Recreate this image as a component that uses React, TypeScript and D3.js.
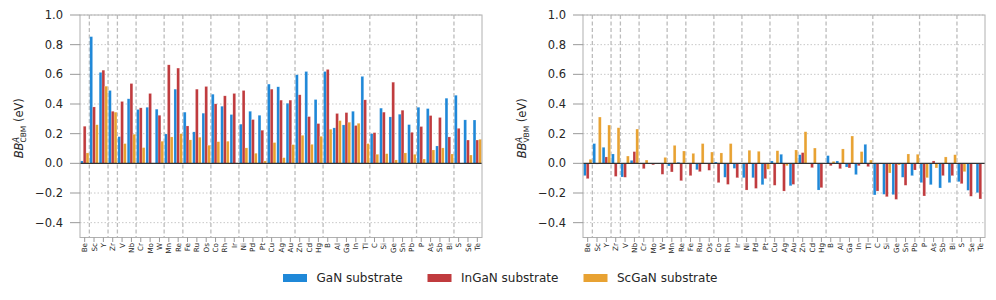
import React from 'react';
import * as d3 from 'd3';

// periodic-table groups, dashed lines separate them
const groups = [
  ['Be'], ['Sc', 'Y'], ['Zr'], ['V', 'Nb'], ['Cr', 'Mo', 'W'], ['Mn', 'Re'],
  ['Fe', 'Ru', 'Os'], ['Co', 'Rh', 'Ir'], ['Ni', 'Pd', 'Pt'], ['Cu', 'Ag', 'Au'],
  ['Zn', 'Cd', 'Hg'], ['B', 'Al', 'Ga', 'In', 'Tl'], ['C', 'Si', 'Ge', 'Sn', 'Pb'],
  ['P', 'As', 'Sb', 'Bi'], ['S', 'Se', 'Te'],
];
const categories = groups.flat();

const seriesNames = ['GaN substrate', 'InGaN substrate', 'ScGaN substrate'];
const colors = ['#1f88d8', '#c03b3e', '#e8a232'];

// BB^A_CBM
const ganCbm = [0.016, 0.854, 0.613, 0.491, 0.18, 0.435, 0.363, 0.378, 0.365, 0.198, 0.5, 0.345, 0.212, 0.338, 0.466, 0.385, 0.329, 0.264, 0.351, 0.324, 0.534, 0.516, 0.405, 0.597, 0.619, 0.43, 0.619, 0.239, 0.259, 0.351, 0.586, 0.2, 0.372, 0.313, 0.331, 0.261, 0.378, 0.369, 0.117, 0.439, 0.459, 0.293, 0.292];
const inganCbm = [0.25, 0.38, 0.628, 0.351, 0.417, 0.538, 0.374, 0.471, 0.324, 0.664, 0.642, 0.252, 0.5, 0.518, 0.401, 0.455, 0.471, 0.491, 0.295, 0.223, 0.5, 0.426, 0.426, 0.462, 0.315, 0.268, 0.633, 0.336, 0.342, 0.255, 0.428, 0.207, 0.345, 0.547, 0.358, 0.209, 0.248, 0.322, 0.309, 0.178, 0.236, 0.157, 0.157];
const scganCbm = [0.07, 0.26, 0.52, 0.345, 0.133, 0.196, 0.106, 0.0, 0.149, 0.178, 0.2, 0.158, 0.176, 0.122, 0.146, 0.149, 0.0, 0.104, 0.068, 0.016, 0.14, 0.038, 0.126, 0.189, 0.128, 0.182, 0.23, 0.288, 0.277, 0.27, 0.133, 0.061, 0.065, 0.023, 0.07, 0.061, 0.029, 0.09, 0.104, 0.063, 0.002, 0.056, 0.162];

// BB^A_VBM
const ganVbm = [-0.083, 0.133, 0.108, 0.063, -0.092, 0.02, -0.005, -0.003, -0.004, -0.018, 0.007, -0.005, -0.043, -0.004, 0.009, -0.094, -0.034, -0.097, -0.097, -0.144, 0.016, 0.061, -0.151, 0.058, -0.003, -0.18, 0.052, 0.016, -0.025, -0.076, 0.128, -0.213, -0.209, -0.211, -0.094, -0.083, -0.13, -0.144, -0.166, -0.13, -0.124, -0.182, -0.198];
const inganVbm = [-0.103, -0.005, 0.043, -0.088, -0.094, 0.079, -0.036, -0.01, -0.074, -0.058, -0.117, -0.083, -0.056, -0.047, -0.13, -0.142, -0.097, -0.18, -0.169, -0.103, -0.148, -0.187, -0.142, 0.072, -0.029, -0.164, -0.016, -0.036, -0.031, -0.016, -0.022, -0.187, -0.225, -0.243, -0.148, -0.045, -0.22, 0.016, -0.083, -0.083, -0.137, -0.222, -0.24];
const scganVbm = [0.027, 0.312, 0.258, 0.24, 0.049, 0.231, 0.022, 0.0, 0.04, 0.121, 0.083, 0.067, 0.133, 0.076, 0.07, 0.133, 0.0, 0.088, 0.081, -0.04, 0.085, -0.016, 0.09, 0.213, 0.103, 0.0, 0.013, 0.097, 0.184, 0.079, 0.022, 0.0, -0.065, -0.011, 0.063, 0.061, -0.097, -0.031, 0.043, 0.058, -0.056, 0.0, 0.0];

const yDomain = [-0.5, 1.0];
const top = 15;
const bottom = 237.5;
const font = 'DejaVu Sans, sans-serif';

function Panel({ x0, x1, series, sub }) {
  const x = d3.scaleBand().domain(categories).range([x0, x1]);
  const y = d3.scaleLinear().domain(yDomain).range([bottom, top]);
  const bw = x.bandwidth();
  const barW = bw * 0.3;
  const ticks = d3.ticks(-0.4, 1.0, 7);
  const fmt = d3.format('.1f');

  // where one group ends and the next begins
  let acc = 0;
  const seps = groups.slice(0, -1).map(g => {
    acc += g.length;
    return x(categories[acc]);
  });

  return (
    <g>
      {ticks.filter(t => Math.abs(t) > 1e-9).map(t => (
        <line key={'g' + t} x1={x0} x2={x1} y1={y(t)} y2={y(t)}
          stroke="#c8c8c8" strokeWidth={1} strokeDasharray="1.5,2" />
      ))}
      {seps.map((sx, i) => (
        <line key={'s' + i} x1={sx} x2={sx} y1={top} y2={bottom}
          stroke="#bcbcbc" strokeWidth={1.3} strokeDasharray="4,2.5" />
      ))}
      {series.map((vals, k) => vals.map((v, i) => {
        const cx = x(categories[i]) + bw / 2 + (k - 1) * barW;
        return (
          <rect key={k + '-' + i} x={cx - barW / 2} width={barW}
            y={y(Math.max(0, v))} height={Math.abs(y(v) - y(0))}
            fill={colors[k]} stroke="#fff" strokeOpacity={0.35} strokeWidth={0.5} />
        );
      }))}
      <line x1={x0} x2={x1} y1={y(0)} y2={y(0)} stroke="#333" strokeWidth={1.2} />
      <rect x={x0} y={top} width={x1 - x0} height={bottom - top}
        fill="none" stroke="#b0b0b0" strokeWidth={1} />

      {ticks.map(t => (
        <g key={'t' + t}>
          <line x1={x0 - 10} x2={x0} y1={y(t)} y2={y(t)} stroke="#999" strokeWidth={1} />
          <text x={x0 - 17} y={y(t)} dy="0.35em" textAnchor="end"
            fontSize={11.5} fill="#262626" fontFamily={font}>{fmt(t)}</text>
        </g>
      ))}

      {categories.map(c => {
        const cx = x(c) + bw / 2;
        return (
          <g key={'x' + c}>
            <line x1={cx} x2={cx} y1={bottom} y2={bottom + 4.5} stroke="#999" strokeWidth={1} />
            <text transform={`translate(${cx},${bottom + 5.5}) rotate(-90)`}
              textAnchor="end" dy="0.35em" fontSize={7.2} fill="#262626" fontFamily={font}>{c}</text>
          </g>
        );
      })}

      <text transform={`translate(${x0 - 61},${(top + bottom) / 2 + 2}) rotate(-90)`}
        textAnchor="middle" fontSize={11.5} fill="#262626" fontFamily={font} dy="0.35em">
        <tspan fontStyle="italic">BB</tspan>
        <tspan fontStyle="italic" fontSize={8} dy={-4.5}>A</tspan>
        <tspan fontSize={7.5} dx={-5.5} dy={7.5}>{sub}</tspan>
        <tspan dy={-3}>{' (eV)'}</tspan>
      </text>
    </g>
  );
}

export default function App() {
  const legendX = [283, 427.5, 583.5];
  return (
    <div style={{ position: 'absolute', left: 0, top: 0 }}>
      <svg width={996} height={300} style={{ display: 'block', background: '#fff' }}>
        <Panel x0={80} x1={482} series={[ganCbm, inganCbm, scganCbm]} sub="CBM" />
        <Panel x0={583} x1={985} series={[ganVbm, inganVbm, scganVbm]} sub="VBM" />
        {seriesNames.map((name, k) => (
          <g key={name}>
            <rect x={legendX[k]} y={274} width={24} height={8} fill={colors[k]} />
            <text x={legendX[k] + 33.5} y={278} dy="0.35em" fontSize={12}
              fill="#262626" fontFamily={font}>{name}</text>
          </g>
        ))}
      </svg>
    </div>
  );
}
